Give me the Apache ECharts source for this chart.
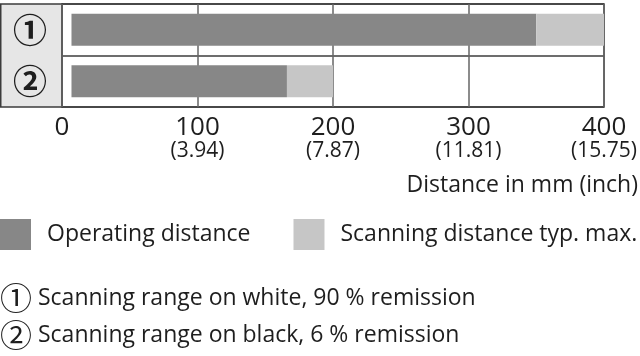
<!DOCTYPE html>
<html>
<head>
<meta charset="utf-8">
<script src="https://cdn.jsdelivr.net/npm/echarts@6/dist/echarts.min.js"></script>
<style>
html,body{margin:0;padding:0;background:#fff;}
#chart{width:640px;height:356px;}
</style>
</head>
<body>
<div id="chart"></div>
<script>
const categories = ['①', '②'];
const minDistance = [7, 7];
const operatingDistance = [350, 166];
const scanningMax = [400, 200];
const xTicks = [0, 100, 200, 300, 400];
const inchLabels = ['', '(3.94)', '(7.87)', '(11.81)', '(15.75)'];
const seriesNames = ['Operating distance', 'Scanning distance typ. max.'];
const axisTitle = 'Distance in mm (inch)';
const notes = ['① Scanning range on white, 90 % remission', '② Scanning range on black, 6 % remission'];

const FONT = 'Open Sans';
const CJK = 'Noto Sans CJK JP';
const TXT = '#1e1e1e';
const chart = echarts.init(document.getElementById('chart'), null, {renderer: 'canvas'});

const operatingPart = operatingDistance.map((v, i) => v - minDistance[i]);
const scanPart = scanningMax.map((v, i) => v - operatingDistance[i]);

function noteText(s) {
  const first = Array.from(s)[0];
  return '{c|' + first + '}{t|' + s.slice(first.length) + '}';
}
const noteRich = {
  c: {fontSize: 32, fontFamily: CJK, fill: TXT, color: TXT, lineHeight: 34},
  t: {fontSize: 23, fontFamily: FONT, fill: TXT, color: TXT, lineHeight: 34}
};

chart.setOption({
  animation: false,
  backgroundColor: '#ffffff',
  textStyle: {fontFamily: FONT},
  grid: {left: 62, right: 34, top: 4, bottom: 249, show: true, borderColor: '#3c3c3c', borderWidth: 1.5, containLabel: false},
  legend: {
    left: 0, top: 219, padding: 0, width: 640, itemWidth: 31, itemHeight: 31, itemGap: 43, icon: 'rect',
    data: seriesNames,
    textStyle: {fontSize: 23, color: TXT, fontFamily: FONT, padding: [0, 0, 0, 11]}
  },
  xAxis: {
    type: 'value', min: 0, max: 400, interval: 100,
    axisLine: {show: false}, axisTick: {show: false},
    splitLine: {show: true, lineStyle: {color: '#666', width: 1.5}},
    axisLabel: {
      margin: 9,
      formatter: function (v) {
        const idx = xTicks.indexOf(v);
        const inch = idx >= 0 ? inchLabels[idx] : '';
        return '{a|' + v + '}' + (inch ? '\n{b|' + inch + '}' : '');
      },
      rich: {
        a: {fontSize: 26, lineHeight: 24, color: TXT, fontFamily: FONT},
        b: {fontSize: 21, lineHeight: 22, color: TXT, fontFamily: FONT}
      }
    }
  },
  yAxis: {
    type: 'category', inverse: true, data: categories,
    axisLine: {show: false}, axisTick: {show: false},
    splitLine: {show: true, lineStyle: {color: '#3c3c3c', width: 1.5}},
    axisLabel: {fontSize: 34, fontFamily: CJK, fontWeight: 'bold', margin: 32, align: 'center', color: TXT}
  },
  series: [
    {name: 'base', type: 'bar', stack: 's', data: minDistance, barWidth: 32, itemStyle: {color: 'rgba(0,0,0,0)'}, silent: true},
    {name: seriesNames[0], type: 'bar', stack: 's', data: operatingPart, barWidth: 32, itemStyle: {color: '#878787'}},
    {name: seriesNames[1], type: 'bar', stack: 's', data: scanPart, barWidth: 32, itemStyle: {color: '#c6c6c6'}}
  ],
  graphic: [
    {type: 'rect', z: -10, shape: {x: 0.75, y: 4, width: 61.25, height: 103}, style: {fill: '#e6e6e6', stroke: '#3c3c3c', lineWidth: 1.5}},
    {type: 'text', x: 638, y: 185, style: {text: axisTitle, fontSize: 23, fill: TXT, fontFamily: FONT, align: 'right', verticalAlign: 'middle'}},
    {type: 'text', x: 0, y: 298, style: {text: noteText(notes[0]), rich: noteRich, fill: TXT, verticalAlign: 'middle'}},
    {type: 'text', x: 0, y: 335, style: {text: noteText(notes[1]), rich: noteRich, fill: TXT, verticalAlign: 'middle'}}
  ]
});
</script>
</body>
</html>
